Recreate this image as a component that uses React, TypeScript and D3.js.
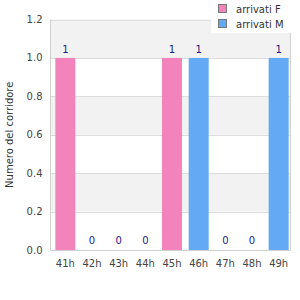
import React from 'react';
import * as d3 from 'd3';

const categories = ['41h', '42h', '43h', '44h', '45h', '46h', '47h', '48h', '49h'];
const arrivatiF = [1, 0, 0, 0, 1, 0, 0, 0, 0];
const arrivatiM = [0, 0, 0, 0, 0, 1, 0, 0, 1];
const yTicks = [0, 0.2, 0.4, 0.6, 0.8, 1.0, 1.2];
const seriesNames = ['arrivati F', 'arrivati M'];
const seriesColors = ['#f383bb', '#63a9f3'];

const FONT = "'DejaVu Sans', Verdana, sans-serif";

const App: React.FC = () => {
  const width = 300;
  const height = 300;
  const left = 50.5;
  const right = 290.5;
  const top = 19.5;
  const bottom = 250;

  const x = d3.scaleBand<string>().domain(categories).range([left + 1.5, right + 1.5]).paddingInner(0.25).paddingOuter(0.125);
  const y = d3.scaleLinear().domain([0, 1.2]).range([bottom, top]);

  const rows = categories.map((c, i) => ({ cat: c, F: arrivatiF[i], M: arrivatiM[i] }));
  const stacked = d3.stack<any>().keys(['F', 'M'])(rows);
  const totals = categories.map((_, i) => arrivatiF[i] + arrivatiM[i]);

  // bande alternate grigie
  const bands = [];
  for (let i = 0; i < yTicks.length - 1; i++) {
    if (i % 2 === 1) bands.push([yTicks[i], yTicks[i + 1]]);
  }

  return (
    <svg width={width} height={height} style={{ position: 'absolute', left: 0, top: 0 }}>
      <rect x={0} y={0} width={width} height={height} fill="#ffffff" />
      {bands.map(([a, b], i) => (
        <rect key={i} x={left} y={y(b)} width={right - left} height={y(a) - y(b)} fill="#f2f2f2" />
      ))}
      {yTicks.map((t) => (
        <line key={t} x1={left} x2={right} y1={Math.round(y(t)) + 0.5} y2={Math.round(y(t)) + 0.5} stroke="#dddddd" strokeWidth={1} />
      ))}
      {stacked.map((s, si) =>
        s.map((d, i) =>
          d[1] - d[0] > 0 ? (
            <rect key={si + '-' + i} x={x(categories[i])} y={y(d[1])} width={x.bandwidth()} height={y(d[0]) - y(d[1])} fill={seriesColors[si]} />
          ) : null
        )
      )}
      <line x1={left} x2={left} y1={top} y2={bottom} stroke="#d0d0d0" />
      <line x1={right} x2={right} y1={top} y2={bottom} stroke="#d0d0d0" />
      <line x1={left} x2={right} y1={bottom + 0.5} y2={bottom + 0.5} stroke="#d0d0d0" />
      {totals.map((t, i) => (
        <text key={i} x={x(categories[i])! + x.bandwidth() / 2} y={t > 0 ? y(t) - 5 : bottom - 6} textAnchor="middle" fontFamily={FONT} fontSize={10} fill="#1a1a8c">
          {t}
        </text>
      ))}
      {yTicks.map((t) => (
        <text key={t} x={left - 8} y={y(t)} dy="0.35em" textAnchor="end" fontFamily={FONT} fontSize={10} fill="#444444">
          {d3.format('.1f')(t)}
        </text>
      ))}
      {categories.map((c) => (
        <text key={c} x={x(c)! + x.bandwidth() / 2} y={bottom + 17} textAnchor="middle" fontFamily={FONT} fontSize={10} fill="#444444">
          {c}
        </text>
      ))}
      <text transform={`translate(9,${(top + bottom) / 2}) rotate(-90)`} textAnchor="middle" dy="0.35em" fontFamily={FONT} fontSize={10} fill="#333333">
        Numero del corridore
      </text>
      <rect x={211} y={0} width={80} height={33} fill="#ffffff" />
      {seriesNames.map((n, i) => (
        <g key={n}>
          <rect x={218.5} y={4.5 + i * 15} width={8} height={8} fill={seriesColors[i]} stroke="#777777" />
          <text x={236} y={9 + i * 15} dy="0.35em" fontFamily={FONT} fontSize={10} fill="#333333">
            {n}
          </text>
        </g>
      ))}
    </svg>
  );
};

export default App;
